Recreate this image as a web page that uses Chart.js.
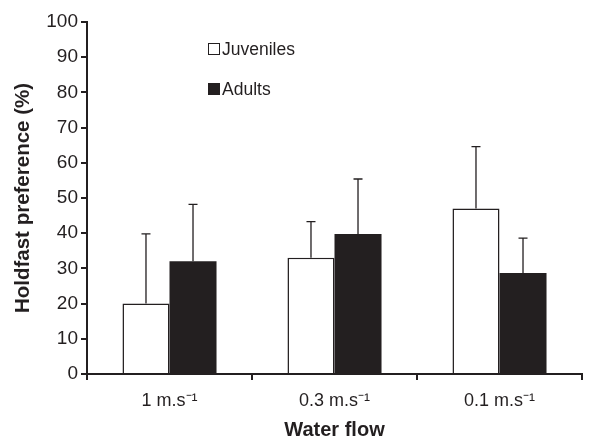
<!DOCTYPE html>
<html>
<head>
<meta charset="utf-8">
<script src="https://cdn.jsdelivr.net/npm/chart.js@4"></script>
<style>
  html, body { margin: 0; padding: 0; background: #fff; }
  #wrap { width: 599px; height: 440px; }
</style>
</head>
<body>
<div id="wrap"><canvas id="chart"></canvas></div>
<script>
// flow categories and group means (%) with upper error (SD)
const flows = ["1 m.s\u207B\u00B9", "0.3 m.s\u207B\u00B9", "0.1 m.s\u207B\u00B9"];
const juveniles = [20, 33, 47];
const juvenilesErr = [19.8, 10.3, 17.6];
const adults = [32, 39.8, 28.7];
const adultsErr = [16.2, 15.6, 9.9];
const yTicks = [0, 10, 20, 30, 40, 50, 60, 70, 80, 90, 100];

const ink = "#231f20";
const face = "'Liberation Sans', Arial, sans-serif";

// draws the one-sided (upward) error bars with caps
const errorBars = {
  id: "errorBars",
  afterDatasetsDraw(chart) {
    const ctx = chart.ctx;
    const y = chart.scales.y;
    ctx.save();
    ctx.strokeStyle = ink;
    ctx.lineWidth = 1.3;
    chart.data.datasets.forEach((ds, i) => {
      const meta = chart.getDatasetMeta(i);
      meta.data.forEach((bar, j) => {
        const top = y.getPixelForValue(ds.data[j] + ds.err[j]);
        ctx.beginPath();
        ctx.moveTo(bar.x, bar.y);
        ctx.lineTo(bar.x, top);
        ctx.moveTo(bar.x - 4.5, top);
        ctx.lineTo(bar.x + 4.5, top);
        ctx.stroke();
      });
    });
    ctx.restore();
  },
};

// legend drawn inside the plot area, one entry per line
const innerLegend = {
  id: "innerLegend",
  afterDraw(chart) {
    const ctx = chart.ctx;
    ctx.save();
    ctx.font = "17.5px " + face;
    ctx.textBaseline = "middle";
    const rows = [49, 89];
    chart.data.datasets.forEach((ds, i) => {
      const cy = rows[i];
      ctx.fillStyle = ds.backgroundColor;
      ctx.fillRect(208, cy - 6, 12, 12);
      ctx.strokeStyle = ink;
      ctx.lineWidth = 1;
      ctx.strokeRect(208.5, cy - 5.5, 11, 11);
      ctx.fillStyle = ink;
      ctx.fillText(ds.label, 222, cy + 1);
    });
    ctx.restore();
  },
};

new Chart(document.getElementById("chart"), {
  type: "bar",
  data: {
    labels: flows,
    datasets: [
      { label: "Juveniles", data: juveniles, err: juvenilesErr, backgroundColor: "#ffffff", borderColor: ink, borderWidth: 1.5, borderSkipped: "bottom" },
      { label: "Adults", data: adults, err: adultsErr, backgroundColor: ink, borderColor: ink, borderWidth: 0 },
    ],
  },
  options: {
    responsive: true,
    maintainAspectRatio: false,
    animation: false,
    devicePixelRatio: 1,
    layout: { padding: { top: 22, right: 17, left: 7, bottom: 0 } },
    datasets: { bar: { categoryPercentage: 0.57, barPercentage: 1 } },
    plugins: { legend: { display: false }, tooltip: { enabled: false } },
    scales: {
      x: {
        grid: { display: true, drawOnChartArea: false, drawTicks: true, tickLength: 6, color: ink, lineWidth: 2, offset: true },
        border: { display: true, color: ink, width: 2 },
        ticks: { color: ink, font: { family: face, size: 18 }, padding: 10 },
        title: { display: true, text: "Water flow", color: ink, font: { family: face, size: 20, weight: "bold", lineHeight: 1 }, padding: { top: 0, bottom: 0 } },
        afterFit: (s) => { s.height = 66; },
      },
      y: {
        min: 0,
        max: 100,
        afterBuildTicks: (s) => { s.ticks = yTicks.map((v) => ({ value: v })); },
        grid: { display: true, drawOnChartArea: false, drawTicks: true, tickLength: 6, color: ink, lineWidth: 2 },
        border: { display: true, color: ink, width: 2 },
        ticks: { color: ink, font: { family: face, size: 19 }, padding: 3 },
        title: { display: true, text: "Holdfast preference (%)", color: ink, font: { family: face, size: 20.5, weight: "bold" }, padding: { bottom: 4 } },
        afterFit: (s) => { s.width = 80; },
      },
    },
  },
  plugins: [errorBars, innerLegend],
});
</script>
</body>
</html>
